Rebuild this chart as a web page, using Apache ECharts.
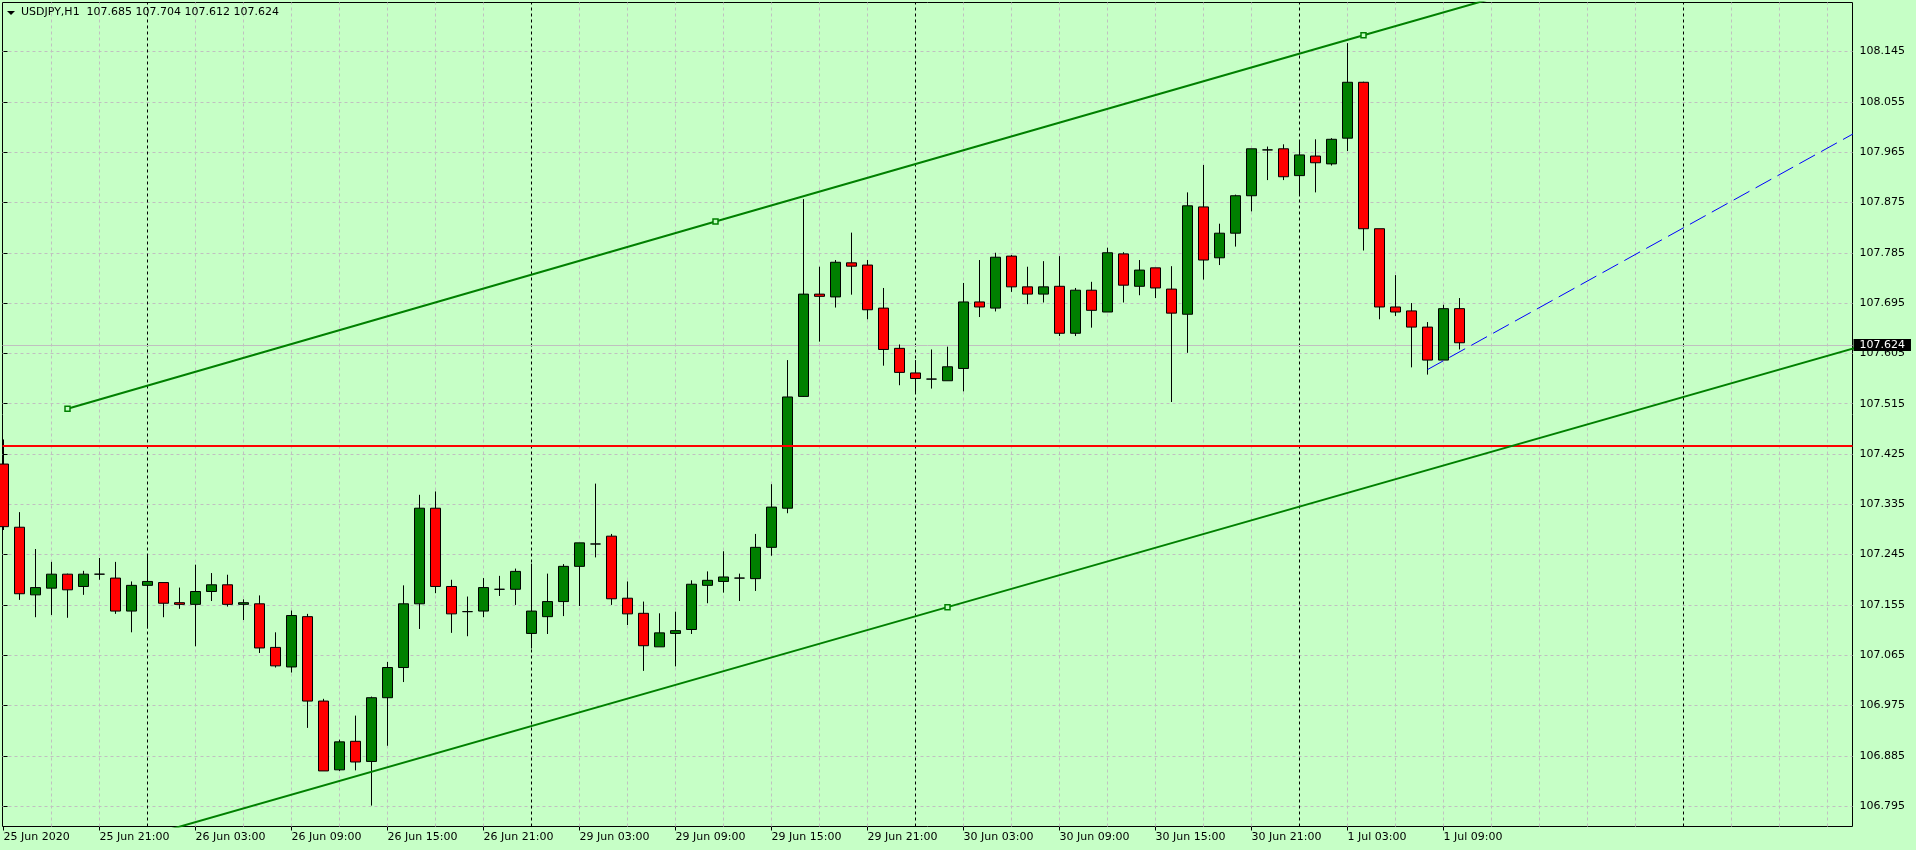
<!DOCTYPE html>
<html>
<head>
<meta charset="utf-8">
<title>USDJPY,H1</title>
<script src="https://cdn.jsdelivr.net/npm/echarts@6/dist/echarts.min.js"></script>
<style>
  html, body { margin: 0; padding: 0; background: #c6ffc6; }
  #chart { width: 1916px; height: 850px; }
</style>
</head>
<body>
<div id="chart"></div>
<script>
// USDJPY H1, 25 Jun 2020 15:00 .. 1 Jul 2020 10:00 (one entry per hourly bar)
const symbolName = 'USDJPY';
const timeframe = 'H1';

const opens = [
  107.407, 107.294, 107.173, 107.185, 107.210, 107.188, 107.210, 107.203, 107.144, 107.190,
  107.195, 107.159, 107.156, 107.179, 107.191, 107.156, 107.157, 107.079, 107.044, 107.134,
  106.983, 106.860, 106.911, 106.875, 106.989, 107.043, 107.157, 107.328, 107.188, 107.143,
  107.144, 107.183, 107.183, 107.104, 107.134, 107.161, 107.224, 107.264, 107.278, 107.167,
  107.140, 107.080, 107.104, 107.111, 107.190, 107.197, 107.203, 107.202, 107.258, 107.328,
  107.528, 107.711, 107.706, 107.767, 107.763, 107.686, 107.614, 107.570, 107.559, 107.556,
  107.578, 107.697, 107.686, 107.779, 107.724, 107.711, 107.725, 107.641, 107.718, 107.679,
  107.783, 107.725, 107.758, 107.720, 107.675, 107.867, 107.776, 107.820, 107.887, 107.969,
  107.971, 107.923, 107.958, 107.944, 107.990, 108.090, 107.828, 107.688, 107.681, 107.652,
  107.593, 107.685
];
const closes = [
  107.295, 107.175, 107.186, 107.210, 107.182, 107.210, 107.210, 107.144, 107.190, 107.197,
  107.158, 107.156, 107.179, 107.191, 107.156, 107.159, 107.078, 107.046, 107.136, 106.983,
  106.858, 106.910, 106.874, 106.989, 107.043, 107.157, 107.328, 107.188, 107.139, 107.143,
  107.186, 107.183, 107.215, 107.144, 107.161, 107.224, 107.266, 107.264, 107.166, 107.139,
  107.082, 107.105, 107.109, 107.192, 107.199, 107.205, 107.203, 107.258, 107.330, 107.527,
  107.711, 107.707, 107.768, 107.761, 107.683, 107.612, 107.571, 107.560, 107.559, 107.581,
  107.697, 107.688, 107.777, 107.724, 107.711, 107.724, 107.641, 107.718, 107.682, 107.785,
  107.727, 107.754, 107.722, 107.677, 107.869, 107.772, 107.820, 107.887, 107.971, 107.969,
  107.921, 107.960, 107.946, 107.988, 108.090, 107.828, 107.688, 107.679, 107.652, 107.593,
  107.685, 107.624
];
const lows = [
  107.289, 107.164, 107.133, 107.137, 107.132, 107.173, 107.200, 107.139, 107.106, 107.113,
  107.133, 107.148, 107.081, 107.162, 107.152, 107.128, 107.069, 107.043, 107.034, 106.935,
  106.858, 106.858, 106.859, 106.796, 106.903, 107.017, 107.112, 107.176, 107.105, 107.099,
  107.133, 107.171, 107.155, 107.077, 107.103, 107.135, 107.153, 107.240, 107.155, 107.119,
  107.037, 107.080, 107.045, 107.103, 107.158, 107.177, 107.162, 107.180, 107.243, 107.319,
  107.527, 107.626, 107.687, 107.710, 107.666, 107.583, 107.548, 107.533, 107.542, 107.556,
  107.537, 107.670, 107.680, 107.715, 107.693, 107.696, 107.636, 107.636, 107.651, 107.679,
  107.696, 107.709, 107.704, 107.518, 107.606, 107.737, 107.763, 107.796, 107.859, 107.915,
  107.915, 107.887, 107.893, 107.941, 107.967, 107.789, 107.666, 107.672, 107.580, 107.567,
  107.593, 107.612
];
const highs = [
  107.451, 107.321, 107.255, 107.232, 107.211, 107.216, 107.239, 107.232, 107.197, 107.246,
  107.195, 107.186, 107.227, 107.212, 107.209, 107.165, 107.172, 107.106, 107.145, 107.139,
  106.987, 106.914, 106.957, 106.991, 107.053, 107.190, 107.352, 107.358, 107.200, 107.170,
  107.203, 107.207, 107.220, 107.229, 107.211, 107.228, 107.266, 107.372, 107.282, 107.197,
  107.161, 107.140, 107.143, 107.199, 107.215, 107.251, 107.211, 107.282, 107.371, 107.593,
  107.881, 107.760, 107.772, 107.821, 107.772, 107.722, 107.621, 107.593, 107.612, 107.617,
  107.731, 107.772, 107.785, 107.781, 107.760, 107.770, 107.779, 107.722, 107.733, 107.794,
  107.786, 107.772, 107.758, 107.761, 107.893, 107.942, 107.837, 107.889, 107.971, 107.975,
  107.979, 107.986, 107.988, 107.990, 108.160, 108.091, 107.828, 107.745, 107.695, 107.661,
  107.692, 107.704
];

// time axis labels, one every 6 bars starting at the first bar
const timeLabels = [
  '25 Jun 2020', '25 Jun 21:00', '26 Jun 03:00', '26 Jun 09:00', '26 Jun 15:00', '26 Jun 21:00',
  '29 Jun 03:00', '29 Jun 09:00', '29 Jun 15:00', '29 Jun 21:00', '30 Jun 03:00', '30 Jun 09:00',
  '30 Jun 15:00', '30 Jun 21:00', '1 Jul 03:00', '1 Jul 09:00'
];
const labelStep = 6;
// bars where a new day starts (period separators), incl. the empty future part
const daySeparators = [9, 33, 57, 81, 105];

const priceTicks = [
  106.795, 106.885, 106.975, 107.065, 107.155, 107.245, 107.335, 107.425,
  107.515, 107.605, 107.695, 107.785, 107.875, 107.965, 108.055, 108.145
];

// drawn objects: [bar index, price]; anchors marked with true
const channelUpper = [[4, 107.506, true], [44.5, 107.841, true], [85, 108.174, true], [100, 108.297, false]];
const channelLower = [[4, 106.701, false], [59, 107.151, true], [116, 107.617, false]];
const trendBlue = [[89, 107.576], [116, 108.004]];
const levelRed = 107.445;

// visible window
const xMin = -0.0625, xMax = 115.5625;
const yMin = 106.7586, yMax = 108.2327;

const BG = '#c6ffc6';
const FONT = 'DejaVu Sans';

const candles = opens.map((o, i) => [i, o, closes[i], lows[i], highs[i]]);
const labelPositions = timeLabels.map((_, k) => k * labelStep);
const last = opens.length - 1;
const bid = closes[last];
const titleText = symbolName + ',' + timeframe + '  ' +
  [opens[last], highs[last], lows[last], closes[last]].map(v => v.toFixed(3)).join(' ');

const vGrid = [];
for (let i = 3; i < xMax; i += 3) {
  if (daySeparators.indexOf(i) < 0) vGrid.push({ xAxis: i });
}
const sepLines = daySeparators.map(i => ({ xAxis: i, lineStyle: { color: '#000', type: [3, 3], width: 1 } }));

function lineData(points) {
  return points.map(p => ({ value: [p[0], p[1]], symbol: p[2] ? 'rect' : 'none' }));
}

const chart = echarts.init(document.getElementById('chart'));

chart.setOption({
  animation: false,
  backgroundColor: BG,
  textStyle: { fontFamily: FONT },
  title: {
    text: titleText, left: 21, top: 7, padding: 0,
    textStyle: { fontSize: 11, fontWeight: 'normal', color: '#000', fontFamily: FONT }
  },
  graphic: [{
    type: 'polygon', silent: true,
    shape: { points: [[7, 11], [15, 11], [11, 15]] },
    style: { fill: '#000' }
  }],
  grid: {
    left: 2.5, right: 63.5, top: 2.5, bottom: 23.5,
    show: true, backgroundColor: BG, borderColor: '#000', borderWidth: 1,
    containLabel: false, outerBoundsMode: 'none'
  },
  xAxis: {
    type: 'value', min: xMin, max: xMax,
    axisLine: { show: false },
    axisTick: { show: true, customValues: labelPositions, length: 4, lineStyle: { color: '#000' } },
    axisLabel: {
      customValues: labelPositions,
      formatter: v => timeLabels[Math.round(v / labelStep)],
      align: 'left', margin: 5, color: '#000', fontSize: 11, fontFamily: FONT
    },
    splitLine: { show: false }
  },
  yAxis: {
    type: 'value', position: 'right', min: yMin, max: yMax,
    axisLine: { show: false },
    axisTick: { show: true, customValues: priceTicks, length: 4, lineStyle: { color: '#000' } },
    axisLabel: {
      customValues: priceTicks,
      formatter: v => v.toFixed(3),
      margin: 7, color: '#000', fontSize: 11, fontFamily: FONT
    },
    splitLine: { show: true, lineStyle: { color: '#c0c0c0', type: [3, 3], width: 1 } }
  },
  series: [
    {
      name: 'grid', type: 'line', data: [], z: 1, silent: true,
      markLine: {
        z: 1, silent: true, symbol: ['none', 'none'], animation: false,
        label: { show: false },
        lineStyle: { color: '#c0c0c0', type: [3, 3], width: 1 },
        data: vGrid.concat(sepLines)
      }
    },
    {
      name: 'bid', type: 'line', data: [], z: 2, silent: true,
      markLine: {
        z: 2, silent: true, symbol: ['none', 'none'], animation: false,
        lineStyle: { color: '#c0c0c0', type: 'solid', width: 1 },
        label: {
          show: true, position: 'end', distance: 1,
          formatter: bid.toFixed(3),
          color: '#ffffff', backgroundColor: '#000', padding: [1, 6, 0, 6],
          fontSize: 11, lineHeight: 11, fontFamily: FONT
        },
        data: [{ yAxis: bid }]
      }
    },
    {
      name: symbolName, type: 'candlestick', z: 3,
      data: candles,
      encode: { x: 0, y: [1, 2, 3, 4] },
      barWidth: 10,
      clip: true,
      itemStyle: {
        color: '#008000', color0: '#ff0000',
        borderColor: '#000', borderColor0: '#000', borderColorDoji: '#000',
        borderWidth: 1
      }
    },
    {
      name: 'level', type: 'line', data: [], z: 4, silent: true,
      markLine: {
        z: 4, silent: true, symbol: ['none', 'none'], animation: false,
        label: { show: false },
        lineStyle: { color: '#ff0000', type: 'solid', width: 2 },
        data: [{ yAxis: levelRed }]
      }
    },
    {
      name: 'channel upper', type: 'line', z: 5, silent: true, clip: true,
      data: lineData(channelUpper),
      symbol: 'rect', symbolSize: 5, showSymbol: true,
      lineStyle: { color: '#008000', width: 2 },
      itemStyle: { color: BG, borderColor: '#008000', borderWidth: 1.5 }
    },
    {
      name: 'channel lower', type: 'line', z: 5, silent: true, clip: true,
      data: lineData(channelLower),
      symbol: 'rect', symbolSize: 5, showSymbol: true,
      lineStyle: { color: '#008000', width: 2 },
      itemStyle: { color: BG, borderColor: '#008000', borderWidth: 1.5 }
    },
    {
      name: 'trend', type: 'line', z: 5, silent: true, clip: true,
      data: trendBlue, symbol: 'none',
      lineStyle: { color: '#0000ff', width: 1, type: [18, 7] }
    }
  ]
});
</script>
</body>
</html>
